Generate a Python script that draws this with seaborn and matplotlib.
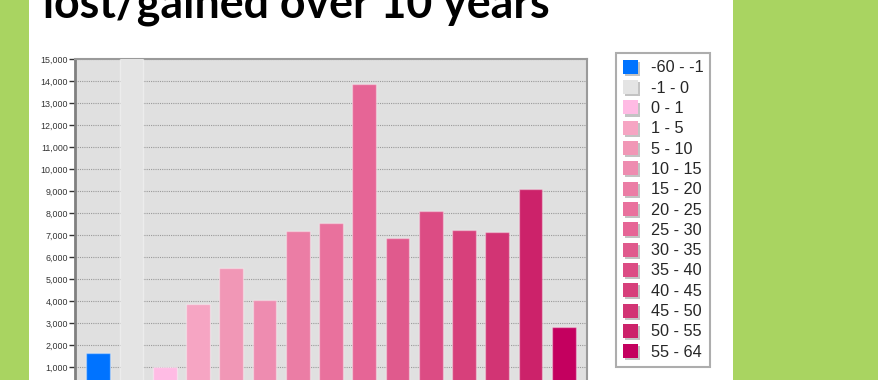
import matplotlib
matplotlib.use("Agg")
import matplotlib.pyplot as plt
import matplotlib.patheffects as pe
from matplotlib.patches import Patch, Rectangle
from matplotlib.ticker import FuncFormatter
import seaborn as sns
import pandas as pd

# Population change by age band (people lost/gained over 10 years)
age_bands = ["-60 - -1", "-1 - 0", "0 - 1", "1 - 5", "5 - 10", "10 - 15", "15 - 20",
             "20 - 25", "25 - 30", "30 - 35", "35 - 40", "40 - 45", "45 - 50",
             "50 - 55", "55 - 64"]
counts = [1650, 26000, 1000, 3870, 5500, 4050, 7200, 7550, 13850, 6850, 8100,
          7230, 7130, 9080, 2830]
band_colors = ["#0073ff", "#e4e4e4", "#ffbbe4", "#f6a5c3", "#f197b6", "#ee8cb0",
               "#eb7da5", "#e9719d", "#e66596", "#e05a8d", "#dc4c84", "#d7407b",
               "#d23474", "#cc226a", "#c4005f"]
y_ticks = list(range(1000, 16000, 1000))

df = pd.DataFrame({"band": age_bands, "count": counts})
palette = dict(zip(age_bands, band_colors))

sns.set_theme(style="white")
plt.rcParams["font.family"] = ["Liberation Sans", "DejaVu Sans"]

W, H = 879, 380
fig = plt.figure(figsize=(W / 100, H / 100), dpi=100)
fig.patch.set_facecolor("#a9d461")
fig.patches.append(Rectangle((29 / W, 0), (733 - 29) / W, 1, transform=fig.transFigure,
                             facecolor="white", edgecolor="none", zorder=-5))

ax = fig.add_axes([75 / W, (H - 389) / H, (587 - 75) / W, (389 - 59) / H])
ax.set_zorder(2)
ax.set_facecolor("#e0e0e0")

sns.barplot(data=df, x="band", y="count", hue="band", palette=palette,
            dodge=False, legend=False, width=0.72, saturation=1, ax=ax,
            edgecolor=(1, 1, 1, 0.35), linewidth=1, zorder=3)

ax.set_xlim(-0.7, len(age_bands) - 0.3)
ax.set_ylim(0, 15000)
ax.set_yticks(y_ticks)
ax.yaxis.set_major_formatter(FuncFormatter(lambda v, _: f"{v:,.0f}"))
ax.set_xticks([])
ax.set_xlabel("")
ax.set_ylabel("")
ax.tick_params(axis="y", which="major", left=True, length=4, width=1, color="#333333",
               labelsize=6.4, labelcolor="#333333", pad=1)
ax.grid(axis="y", linestyle=(0, (1, 1)), color="#9a9a9a", linewidth=0.8, zorder=0)
ax.set_axisbelow(True)

for side, lw, col in [("left", 2.0, "#808080"), ("top", 1.5, "#9a9a9a"),
                      ("right", 1.5, "#9a9a9a"), ("bottom", 1.5, "#9a9a9a")]:
    ax.spines[side].set_visible(True)
    ax.spines[side].set_linewidth(lw)
    ax.spines[side].set_color(col)

handles = [Patch(facecolor=c, edgecolor="none") for c in band_colors]
leg = fig.legend(handles, age_bands, loc="upper left",
                 bbox_to_anchor=(616 / W, 1 - 53 / H), borderaxespad=0,
                 fontsize=11.7, handlelength=0.95, handleheight=0.95,
                 handletextpad=0.78, labelspacing=0.29, borderpad=0.42,
                 frameon=True, fancybox=False, edgecolor="#999999")
leg.get_frame().set_linewidth(1.5)
leg.get_frame().set_facecolor("white")
for p in leg.get_patches():
    p.set_path_effects([pe.withSimplePatchShadow(offset=(1.5, -1.5),
                                                 shadow_rgbFace="#888888", alpha=0.5),
                        pe.Normal()])

fig.text(43 / W, 1 - 17 / H, "lost/gained over 10 years", fontsize=32.2,
         fontweight="bold", family=["Lato", "DejaVu Sans"], color="black",
         va="baseline", ha="left")

fig.savefig("out.png", dpi=100, facecolor=fig.get_facecolor())
